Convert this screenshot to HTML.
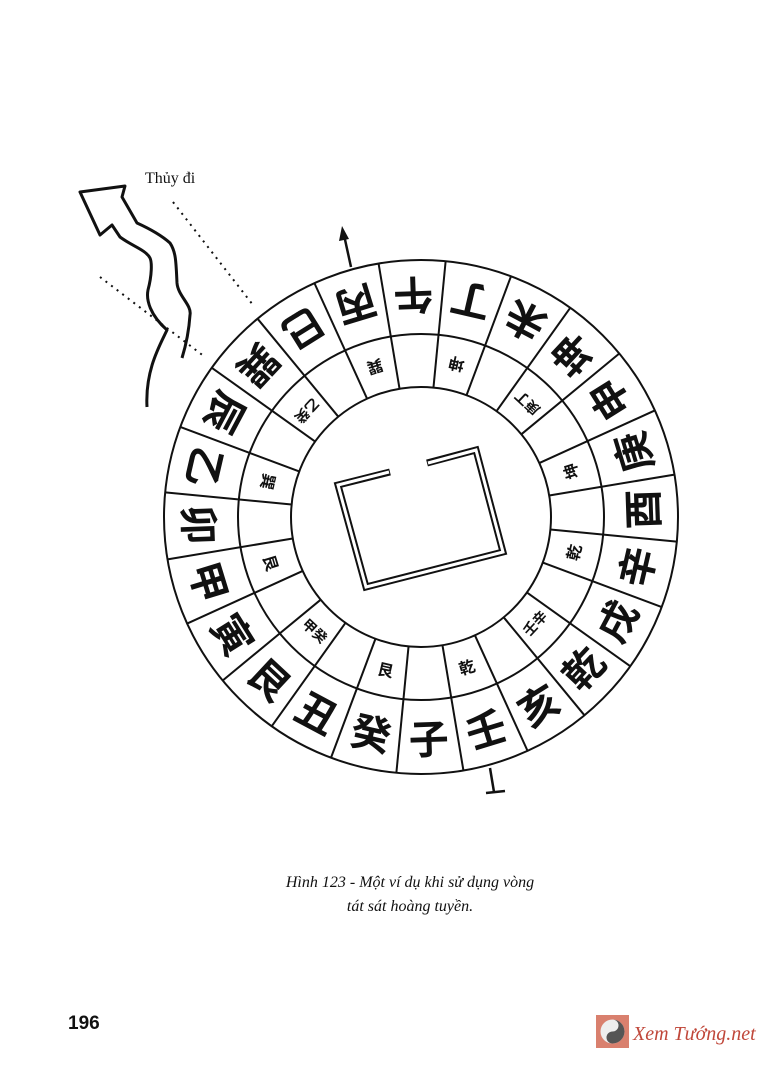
<!DOCTYPE html>
<html><head><meta charset="utf-8"><style>
html,body{margin:0;padding:0;background:#fff;}
svg{display:block;}
</style></head><body>
<svg width="762" height="1067" viewBox="0 0 762 1067" xmlns="http://www.w3.org/2000/svg">
<defs><line id="ln" x1="0" y1="130" x2="0" y2="257"/></defs>
<rect width="762" height="1067" fill="#fff"/>
<text x="145" y="183" font-family="Liberation Serif, serif" font-size="16" fill="#111">Thủy đi</text>
<!-- river -->
<path d="M147,407 C145,370 160,345 167,330 C150,315 146,300 148,290 C152,275 152,262 150,258 C146,250 132,246 120,237 L112,225 L100,235 L80,192 L125,186 L122,197 L137,223 C148,228 160,234 170,243 C176,252 176,262 177,283 C178,296 192,305 190,315 C189,330 186,345 182,358" fill="none" stroke="#111" stroke-width="3" stroke-linejoin="round"/>
<line x1="173" y1="202" x2="253" y2="305" stroke="#111" stroke-width="2" stroke-dasharray="2,5"/>
<line x1="100" y1="277" x2="205" y2="357" stroke="#111" stroke-width="2" stroke-dasharray="2,5"/>
<!-- top arrow -->
<line x1="351" y1="267" x2="344" y2="235" stroke="#111" stroke-width="2.5"/>
<polygon points="342,226 339,241 349,239" fill="#111"/>
<!-- bottom tick -->
<line x1="490" y1="768" x2="494" y2="792" stroke="#111" stroke-width="2.5"/>
<line x1="486" y1="793" x2="505" y2="791" stroke="#111" stroke-width="2.5"/>
<g transform="translate(421 517)" fill="none" stroke="#111" stroke-width="2">
<circle r="257"/><circle r="183"/><circle r="130"/>
<use href="#ln" transform="rotate(-9.5)"/><use href="#ln" transform="rotate(-24.5)"/><use href="#ln" transform="rotate(-39.5)"/><use href="#ln" transform="rotate(-54.5)"/><use href="#ln" transform="rotate(-69.5)"/><use href="#ln" transform="rotate(-84.5)"/><use href="#ln" transform="rotate(-99.5)"/><use href="#ln" transform="rotate(-114.5)"/><use href="#ln" transform="rotate(-129.5)"/><use href="#ln" transform="rotate(-144.5)"/><use href="#ln" transform="rotate(-159.5)"/><use href="#ln" transform="rotate(-174.5)"/><use href="#ln" transform="rotate(-189.5)"/><use href="#ln" transform="rotate(-204.5)"/><use href="#ln" transform="rotate(-219.5)"/><use href="#ln" transform="rotate(-234.5)"/><use href="#ln" transform="rotate(-249.5)"/><use href="#ln" transform="rotate(-264.5)"/><use href="#ln" transform="rotate(-279.5)"/><use href="#ln" transform="rotate(-294.5)"/><use href="#ln" transform="rotate(-309.5)"/><use href="#ln" transform="rotate(-324.5)"/><use href="#ln" transform="rotate(-339.5)"/><use href="#ln" transform="rotate(-354.5)"/>
</g>
<g transform="translate(421 517)" font-family="Noto Sans CJK SC, sans-serif" font-weight="bold" font-size="40" fill="#111" text-anchor="middle" dominant-baseline="central">
<text transform="rotate(-2)" y="220">子</text>
<text transform="rotate(-17)" y="220">壬</text>
<text transform="rotate(-32)" y="220">亥</text>
<text transform="rotate(-47)" y="220">乾</text>
<text transform="rotate(-62)" y="220">戌</text>
<text transform="rotate(-77)" y="220">辛</text>
<text transform="rotate(-92)" y="220">酉</text>
<text transform="rotate(-107)" y="220">庚</text>
<text transform="rotate(-122)" y="220">申</text>
<text transform="rotate(-137)" y="220">坤</text>
<text transform="rotate(-152)" y="220">未</text>
<text transform="rotate(-167)" y="220">丁</text>
<text transform="rotate(-182)" y="220">午</text>
<text transform="rotate(-197)" y="220">丙</text>
<text transform="rotate(-212)" y="220">巳</text>
<text transform="rotate(-227)" y="220">巽</text>
<text transform="rotate(-242)" y="220">辰</text>
<text transform="rotate(-257)" y="220">乙</text>
<text transform="rotate(-272)" y="220">卯</text>
<text transform="rotate(-287)" y="220">甲</text>
<text transform="rotate(-302)" y="220">寅</text>
<text transform="rotate(-317)" y="220">艮</text>
<text transform="rotate(-332)" y="220">丑</text>
<text transform="rotate(-347)" y="220">癸</text>
</g>
<g transform="translate(421 517)" font-family="Noto Sans CJK SC, sans-serif" font-weight="bold" font-size="16" fill="#111" text-anchor="middle" dominant-baseline="central">
<text transform="rotate(-17)" y="156">乾</text>
<text transform="rotate(-47)" y="156" font-size="14">壬辛</text>
<text transform="rotate(-77)" y="156">乾</text>
<text transform="rotate(-107)" y="156">坤</text>
<text transform="rotate(-137)" y="156" font-size="14">庚丁</text>
<text transform="rotate(-167)" y="156">坤</text>
<text transform="rotate(-197)" y="156">巽</text>
<text transform="rotate(-227)" y="156" font-size="14">乙癸</text>
<text transform="rotate(-257)" y="156">巽</text>
<text transform="rotate(-287)" y="156">艮</text>
<text transform="rotate(-317)" y="156" font-size="14">甲癸</text>
<text transform="rotate(-347)" y="156">艮</text>
</g>
<!-- centre square double line -->
<path d="M390,472 L338,485 L366,587 L503,552 L476,450 L427,463" fill="none" stroke="#111" stroke-width="7" stroke-linejoin="miter"/>
<path d="M389,472 L338,485 L366,587 L503,552 L476,450 L428,463" fill="none" stroke="#fff" stroke-width="3" stroke-linejoin="miter"/>
<text x="410" y="887" text-anchor="middle" font-family="Liberation Serif, serif" font-style="italic" font-size="16" fill="#111">Hình 123 - Một ví dụ khi sử dụng vòng</text>
<text x="410" y="911" text-anchor="middle" font-family="Liberation Serif, serif" font-style="italic" font-size="16" fill="#111">tát sát hoàng tuyền.</text>
<text x="68" y="1029" font-family="Liberation Sans, sans-serif" font-weight="bold" font-size="19" fill="#111">196</text>
<!-- logo -->
<rect x="596" y="1015" width="33" height="33" fill="#d9806e"/>
<circle cx="612.5" cy="1031.5" r="12" fill="#eee"/>
<path d="M612.5,1019.5 A12,12 0 0 1 612.5,1043.5 A6,6 0 0 1 612.5,1031.5 A6,6 0 0 0 612.5,1019.5Z" fill="#555"/>
<text x="633" y="1040" font-family="Liberation Serif, serif" font-style="italic" font-size="20" fill="#c0473a">Xem Tướng.net</text>
</svg>
</body></html>
